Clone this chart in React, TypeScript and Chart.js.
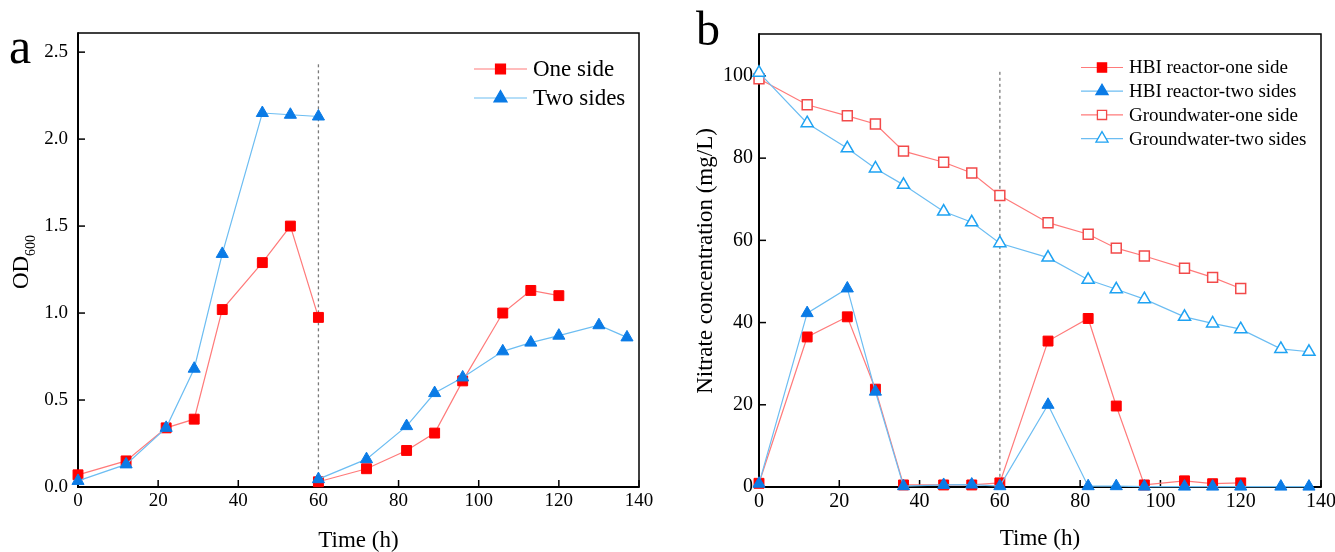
import React, { useEffect, useRef } from 'react';
import { Chart, registerables } from 'chart.js';

Chart.register(...registerables);

// ---------- Panel a data (OD600) ----------
const timeA1 = [0, 12, 22, 29, 36, 46, 53, 60];
const timeA2one = [60, 72, 82, 89, 96, 106, 113, 120];
const timeA2two = [60, 72, 82, 89, 96, 106, 113, 120, 130, 137];
const odOneSide1 = [0.07, 0.15, 0.34, 0.39, 1.02, 1.29, 1.50, 0.975];
const odOneSide2 = [0.03, 0.105, 0.21, 0.31, 0.61, 1.0, 1.13, 1.10];
const odTwoSides1 = [0.035, 0.13, 0.34, 0.68, 1.34, 2.15, 2.14, 2.13];
const odTwoSides2 = [0.045, 0.16, 0.35, 0.54, 0.63, 0.78, 0.83, 0.87, 0.93, 0.86];
const legendA = ['One side', 'Two sides'];

// ---------- Panel b data (Nitrate, mg/L) ----------
const timeB = [0, 12, 22, 29, 36, 46, 53, 60, 72, 82, 89, 96, 106, 113, 120, 130, 137];
const hbiOneSide = [0.9, 36.5, 41.4, 23.8, 0.5, 0.5, 0.5, 1.0, 35.5, 41.0, 19.7, 0.5, 1.5, 0.8, 1.0];
const hbiTwoSides = [0.8, 42.3, 48.3, 23.2, 0.2, 0.5, 0.6, 0.2, 20.0, 0.2, 0.2, 0.1, 0.1, 0.1, 0.1, 0.1, 0.1];
const gwOneSide = [99.3, 93.0, 90.3, 88.3, 81.7, 79.0, 76.4, 70.9, 64.3, 61.5, 58.1, 56.2, 53.2, 51.0, 48.3];
const gwTwoSides = [100.8, 88.5, 82.4, 77.5, 73.5, 67.0, 64.4, 59.3, 55.8, 50.4, 48.1, 45.7, 41.4, 39.8, 38.4, 33.6, 32.9];
const legendB = ['HBI reactor-one side', 'HBI reactor-two sides', 'Groundwater-one side', 'Groundwater-two sides'];

const xTicksA = [0, 20, 40, 60, 80, 100, 120, 140];
const xTicksB = [0, 20, 40, 60, 80, 100, 120, 140];

const SERIF = '"Liberation Serif", "Times New Roman", serif';
const RED = '#FF0000';
const RED_LINE = '#FF7A7A';
const BLUE = '#0A7BE6';
const BLUE_LINE = '#6CBDF2';
const RED_OPEN = '#F24A4A';
const BLUE_OPEN = '#1EA2F2';

const zip = (xs: number[], ys: (number | null)[]) => ys.map((y, i) => ({ x: xs[i], y }));

function drawMarker(ctx: CanvasRenderingContext2D, shape: string, x: number, y: number, r: number, color: string, filled: boolean, lw: number) {
  ctx.save();
  ctx.beginPath();
  if (shape === 'rect') {
    const s = r * Math.SQRT1_2;
    ctx.rect(x - s, y - s, 2 * s, 2 * s);
  } else {
    let rad = 0;
    const step = (2 * Math.PI) / 3;
    ctx.moveTo(x + Math.sin(rad) * r, y - Math.cos(rad) * r);
    rad += step;
    ctx.lineTo(x + Math.sin(rad) * r, y - Math.cos(rad) * r);
    rad += step;
    ctx.lineTo(x + Math.sin(rad) * r, y - Math.cos(rad) * r);
    ctx.closePath();
  }
  ctx.fillStyle = filled ? color : '#FFFFFF';
  ctx.fill();
  ctx.lineWidth = lw;
  ctx.strokeStyle = color;
  ctx.stroke();
  ctx.restore();
}

const overlayPlugin = {
  id: 'overlay',
  beforeDatasetsDraw(chart: any, _args: any, opts: any) {
    const { ctx, chartArea } = chart;
    const { left, right, top, bottom } = chartArea;
    const x = chart.scales.x;
    const y = chart.scales.y;
    // dashed vertical line
    ctx.save();
    ctx.strokeStyle = '#7A7A7A';
    ctx.lineWidth = 1.3;
    ctx.setLineDash([3, 3]);
    const px = x.getPixelForValue(opts.dashX);
    ctx.beginPath();
    ctx.moveTo(px, y.getPixelForValue(opts.dashTop));
    ctx.lineTo(px, bottom);
    ctx.stroke();
    ctx.restore();
    // frame
    ctx.save();
    ctx.strokeStyle = '#000';
    ctx.lineWidth = 1.5;
    ctx.beginPath();
    ctx.moveTo(left, top);
    ctx.lineTo(right, top);
    ctx.lineTo(right, bottom);
    ctx.stroke();
    ctx.lineWidth = 2;
    ctx.beginPath();
    ctx.moveTo(left, top - 0.75);
    ctx.lineTo(left, bottom);
    ctx.lineTo(right + 0.75, bottom);
    ctx.stroke();
    // inward ticks
    ctx.lineWidth = 1.5;
    const tl = 7;
    x.ticks.forEach((t: any) => {
      const p = x.getPixelForValue(t.value);
      ctx.beginPath();
      ctx.moveTo(p, bottom);
      ctx.lineTo(p, bottom - tl);
      ctx.stroke();
    });
    y.ticks.forEach((t: any) => {
      const p = y.getPixelForValue(t.value);
      ctx.beginPath();
      ctx.moveTo(left, p);
      ctx.lineTo(left + tl, p);
      ctx.stroke();
    });
    ctx.restore();
  },
  afterDraw(chart: any, _args: any, opts: any) {
    const { ctx, chartArea } = chart;
    const { left, right } = chartArea;
    ctx.save();
    ctx.fillStyle = '#000';
    // panel letter
    ctx.font = `${opts.letterSize}px ${SERIF}`;
    ctx.textAlign = 'left';
    ctx.textBaseline = 'alphabetic';
    ctx.fillText(opts.letter, opts.letterX, opts.letterY);
    // x title
    ctx.font = `${opts.titleSize}px ${SERIF}`;
    ctx.textAlign = 'center';
    ctx.fillText(opts.xTitle, (left + right) / 2, opts.xTitleY);
    // y title (rotated)
    ctx.save();
    ctx.translate(opts.yTitleX, opts.yTitleCY);
    ctx.rotate(-Math.PI / 2);
    ctx.textAlign = 'left';
    ctx.font = `${opts.titleSize}px ${SERIF}`;
    const w1 = ctx.measureText(opts.yTitle).width;
    let w2 = 0;
    if (opts.ySub) {
      ctx.font = `${opts.subSize}px ${SERIF}`;
      w2 = ctx.measureText(opts.ySub).width;
    }
    const start = -(w1 + w2) / 2;
    ctx.font = `${opts.titleSize}px ${SERIF}`;
    ctx.fillText(opts.yTitle, start, 0);
    if (opts.ySub) {
      ctx.font = `${opts.subSize}px ${SERIF}`;
      ctx.fillText(opts.ySub, start + w1, opts.subShift);
    }
    ctx.restore();
    // legend
    const lg = opts.legend;
    ctx.font = `${lg.fontSize}px ${SERIF}`;
    ctx.textAlign = 'left';
    ctx.textBaseline = 'middle';
    chart.data.datasets.forEach((ds: any, i: number) => {
      const ry = lg.y0 + i * lg.dy;
      ctx.save();
      ctx.strokeStyle = ds.borderColor;
      ctx.lineWidth = ds.borderWidth;
      ctx.beginPath();
      ctx.moveTo(lg.x0, ry);
      ctx.lineTo(lg.x1, ry);
      ctx.stroke();
      ctx.restore();
      const filled = ds.pointBackgroundColor !== '#FFFFFF';
      drawMarker(ctx, ds.pointStyle, (lg.x0 + lg.x1) / 2, ry, ds.pointStyle === 'rect' ? lg.rRect : lg.rTri, ds.pointBorderColor, filled, 1.3);
      ctx.fillStyle = '#000';
      ctx.fillText(ds.label, lg.tx, ry + 1);
    });
    ctx.restore();
  },
};

function lineDs(label: string, data: any[], line: string, marker: string, style: string, filled: boolean, order = 0) {
  return {
    label,
    data,
    order,
    borderColor: line,
    borderWidth: 1.2,
    pointStyle: style,
    pointRadius: 7,
    pointHoverRadius: 7,
    pointBorderWidth: filled ? 1 : 1.5,
    pointBorderColor: marker,
    pointBackgroundColor: filled ? marker : '#FFFFFF',
    tension: 0,
    spanGaps: false,
    clip: false,
    fill: false,
  };
}

function makeScales(cfg: any) {
  return {
    x: {
      type: 'linear',
      min: 0,
      max: 140,
      afterBuildTicks: (s: any) => {
        s.ticks = cfg.xTicks.map((v: number) => ({ value: v }));
      },
      ticks: {
        font: { family: SERIF, size: cfg.tickSize },
        color: '#000',
        padding: cfg.xPad,
        maxRotation: 0,
        autoSkip: false,
      },
      grid: { display: false, drawTicks: false },
      border: { display: false },
      afterFit: (s: any) => {
        s.height = cfg.xHeight;
        s.paddingLeft = 0;
        s.paddingRight = 0;
      },
    },
    y: {
      type: 'linear',
      min: 0,
      max: cfg.yMax,
      ticks: {
        stepSize: cfg.yStep,
        includeBounds: false,
        font: { family: SERIF, size: cfg.tickSize },
        color: '#000',
        padding: cfg.yPad,
        callback: cfg.yFmt,
      },
      grid: { display: false, drawTicks: false },
      border: { display: false },
      afterFit: (s: any) => {
        s.width = cfg.yWidth;
        s.paddingTop = 0;
        s.paddingBottom = 0;
      },
    },
  };
}

function useChart(ref: React.RefObject<HTMLCanvasElement>, build: () => any) {
  useEffect(() => {
    if (!ref.current) return;
    const chart = new Chart(ref.current, build());
    return () => chart.destroy();
  }, []);
}

function PanelA() {
  const ref = useRef<HTMLCanvasElement>(null);
  useChart(ref, () => ({
    type: 'line',
    data: {
      datasets: [
        lineDs(legendA[0], [...zip(timeA1, odOneSide1), { x: 60, y: null }, ...zip(timeA2one, odOneSide2)], RED_LINE, RED, 'rect', true, 1),
        lineDs(legendA[1], [...zip(timeA1, odTwoSides1), { x: 60, y: null }, ...zip(timeA2two, odTwoSides2)], BLUE_LINE, BLUE, 'triangle', true, 0),
      ],
    },
    options: {
      responsive: false,
      animation: false,
      events: [],
      layout: { padding: { top: 33, right: 28, left: 0, bottom: 0 } },
      scales: makeScales({ xTicks: xTicksA, yMax: 2.61, yStep: 0.5, yFmt: (v: number) => v.toFixed(1), tickSize: 19, xPad: 3, yPad: 10, xHeight: 65, yWidth: 78 }),
      plugins: {
        legend: { display: false },
        tooltip: { enabled: false },
        overlay: {
          dashX: 60, dashTop: 2.43,
          letter: 'a', letterX: 9, letterY: 63, letterSize: 50,
          xTitle: 'Time (h)', xTitleY: 547, titleSize: 23,
          yTitle: 'OD', ySub: '600', subSize: 14, subShift: 7, yTitleX: 28, yTitleCY: 262,
          legend: { x0: 474, x1: 527, y0: 69, dy: 29, tx: 533, fontSize: 23, rRect: 7, rTri: 7.5 },
        },
      },
    },
    plugins: [overlayPlugin],
  }));
  return <canvas ref={ref} width={667} height={552} style={{ position: 'absolute', left: 0, top: 0 }} />;
}

function PanelB() {
  const ref = useRef<HTMLCanvasElement>(null);
  useChart(ref, () => ({
    type: 'line',
    data: {
      datasets: [
        lineDs(legendB[0], zip(timeB, hbiOneSide), RED_LINE, RED, 'rect', true, 1),
        lineDs(legendB[1], zip(timeB, hbiTwoSides), BLUE_LINE, BLUE, 'triangle', true, 0),
        lineDs(legendB[2], zip(timeB, gwOneSide), RED_LINE, RED_OPEN, 'rect', false, 3),
        lineDs(legendB[3], zip(timeB, gwTwoSides), BLUE_LINE, BLUE_OPEN, 'triangle', false, 2),
      ],
    },
    options: {
      responsive: false,
      animation: false,
      events: [],
      layout: { padding: { top: 34, right: 14, left: 0, bottom: 0 } },
      scales: makeScales({ xTicks: xTicksB, yMax: 110.2, yStep: 20, yFmt: (v: number) => String(v), tickSize: 20, xPad: 3, yPad: 6, xHeight: 65, yWidth: 92 }),
      plugins: {
        legend: { display: false },
        tooltip: { enabled: false },
        overlay: {
          dashX: 60, dashTop: 101,
          letter: 'b', letterX: 29, letterY: 45, letterSize: 48,
          xTitle: 'Time (h)', xTitleY: 545, titleSize: 23,
          yTitle: 'Nitrate concentration (mg/L)', ySub: '', subSize: 14, subShift: 0, yTitleX: 45, yTitleCY: 261,
          legend: { x0: 414, x1: 456, y0: 67.5, dy: 23.7, tx: 462, fontSize: 19, rRect: 6.5, rTri: 7 },
        },
      },
    },
    plugins: [overlayPlugin],
  }));
  return <canvas ref={ref} width={668} height={552} style={{ position: 'absolute', left: 667, top: 0 }} />;
}

export default function App() {
  return (
    <div style={{ position: 'absolute', left: 0, top: 0, width: 1335, height: 552, background: '#fff', overflow: 'hidden' }}>
      <PanelA />
      <PanelB />
    </div>
  );
}
